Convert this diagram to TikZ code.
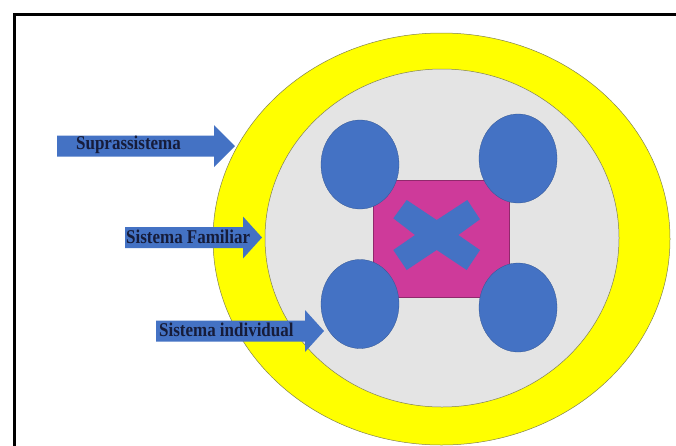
\documentclass[tikz,border=0pt]{standalone}
\usepackage{fontspec}
\setmainfont{Liberation Serif}
\newfontfamily\estrecha[FakeStretch=0.87]{Liberation Serif}
\definecolor{miamarillo}{RGB}{255,255,0}
\definecolor{migris}{RGB}{228,228,228}
\definecolor{miazul}{RGB}{68,114,196}
\definecolor{mimagenta}{RGB}{206,58,154}
\definecolor{mitexto}{RGB}{22,28,58}
\definecolor{miborde}{RGB}{130,130,80}
\newcommand{\flecha}[4]{% inicio, base de la punta, punta, altura
  \fill[miazul] (#1,#4-10.5) -- (#2,#4-10.5) -- (#2,#4-21) -- (#3,#4)
    -- (#2,#4+21) -- (#2,#4+10.5) -- (#1,#4+10.5) -- cycle;}

\begin{document}
\begin{tikzpicture}[x=1pt,y=-1pt]
	\tikzstyle{anillo}=[draw=miborde,line width=0.5pt];
	\tikzstyle{persona}=[fill=miazul,draw=miazul!75!black,line width=0.3pt];
	\tikzstyle{etiqueta}=[anchor=west,inner sep=0pt,text=mitexto,font=\estrecha\bfseries\fontsize{19.5}{19.5}\selectfont];
	\useasboundingbox (0,0) rectangle (676,445);
	\fill[white] (0,0) rectangle (676,445);
	% marco
	\draw[line width=3pt] (14.5,446) -- (14.5,14.5) -- (677,14.5);
	% suprasistema y sistema familiar
	\draw[anillo,fill=miamarillo] (441.5,239) ellipse (228.5 and 206);
	\draw[anillo,fill=migris]     (442,238)   ellipse (177 and 169);
	% subsistemas
	\draw[fill=mimagenta,draw=mimagenta!70!black,line width=0.3pt] (373,180) rectangle (509,297);
	\fill[miazul] (393.3,218.3) -- (406.7,200) -- (436.7,220) -- (467.3,200) -- (480,219.3)
		-- (458.3,235) -- (480,250) -- (466.7,270) -- (436.7,250) -- (406.7,270)
		-- (393.3,250) -- (415,235) -- cycle;
	\draw[persona] (360,164.5) ellipse (39 and 44.5);
	\draw[persona] (518,158.5) ellipse (39 and 44.5);
	\draw[persona] (360,304)   ellipse (39 and 44.5);
	\draw[persona] (518,307.5) ellipse (39 and 44.5);
	% flechas
	\flecha{57}{214}{235}{146}
	\flecha{125}{243}{262}{237.5}
	\flecha{156}{305}{324}{331}
	\node[etiqueta] (supra) at (76,145)   {Suprassistema};
	\node[etiqueta] (fam)   at (126,237)  {Sistema Familiar};
	\node[etiqueta] (indiv) at (159,330)  {Sistema individual};
\end{tikzpicture}
\end{document}
